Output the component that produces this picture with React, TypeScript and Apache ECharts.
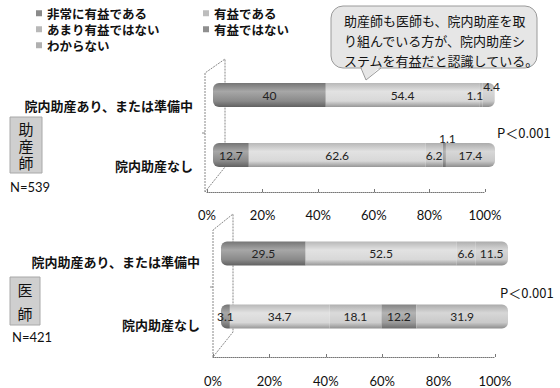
import React, { useEffect, useRef } from "react";
import * as echarts from "echarts";

const categories = ["院内助産あり、または準備中", "院内助産なし"];
const seriesNames = ["非常に有益である", "有益である", "あまり有益ではない", "有益ではない", "わからない"];

// 助産師 (N=539)
const midwifeVeryUseful = [40, 12.7];
const midwifeUseful = [54.4, 62.6];
const midwifeNotVery = [1.1, 6.2];
const midwifeNotUseful = [0, 1.1];
const midwifeUnknown = [4.4, 17.4];

// 医師 (N=421)
const doctorVeryUseful = [29.5, 3.1];
const doctorUseful = [52.5, 34.7];
const doctorNotVery = [6.6, 18.1];
const doctorNotUseful = [0, 12.2];
const doctorUnknown = [11.5, 31.9];

const percentTicks = [0, 20, 40, 60, 80, 100];

const baseColors = ["#8a8a8a", "#d8d8d8", "#cecece", "#9a9a9a", "#c9c9c9"];
const legendColors = ["#8a8a8a", "#bdbdbd", "#b8b8b8", "#8f8f8f", "#b0b0b0"];

const CJK = "'Noto Sans CJK JP', sans-serif";
const NUM = "Lato, 'Noto Sans', sans-serif";

function shade(hex: string, f: number) {
  const n = parseInt(hex.slice(1), 16);
  const c = [(n >> 16) & 255, (n >> 8) & 255, n & 255].map((v) =>
    Math.max(0, Math.min(255, Math.round(f >= 0 ? v + (255 - v) * f : v * (1 + f))))
  );
  return "rgb(" + c.join(",") + ")";
}

function cylinder(hex: string) {
  return new echarts.graphic.LinearGradient(0, 0, 0, 1, [
    { offset: 0, color: shade(hex, -0.15) },
    { offset: 0.35, color: shade(hex, 0.25) },
    { offset: 0.75, color: hex },
    { offset: 1, color: shade(hex, -0.3) },
  ]);
}

function labelOverride(panel: number, s: number, row: number) {
  if (panel === 0 && s === 4 && row === 0) return { offset: [3, -9] };
  if (panel === 0 && s === 2 && row === 0) return { offset: [-6, 0] };
  if (panel === 0 && s === 3 && row === 1) return { offset: [3, -17] };
  return null;
}

export default function App() {
  const ref = useRef<HTMLDivElement>(null);
  useEffect(() => {
    if (!ref.current) return;
    const chart = echarts.init(ref.current, null, { renderer: "svg" });
    const panels = [
      [midwifeVeryUseful, midwifeUseful, midwifeNotVery, midwifeNotUseful, midwifeUnknown],
      [doctorVeryUseful, doctorUseful, doctorNotVery, doctorNotUseful, doctorUnknown],
    ];
    const series: any[] = [];
    panels.forEach((vals, p) => {
      vals.forEach((arr, s) => {
        series.push({
          type: "bar",
          name: seriesNames[s],
          stack: "panel" + p,
          xAxisIndex: p,
          yAxisIndex: p,
          barWidth: 24,
          z: 5,
          itemStyle: {
            color: cylinder(baseColors[s]),
            borderRadius: s === 0 ? [6, 0, 0, 6] : s === 4 ? [0, 6, 6, 0] : 0,
          },
          label: {
            show: true,
            position: "inside",
            color: "#222",
            fontFamily: NUM,
            fontSize: 12,
            formatter: (pp: any) => (pp.value > 0 ? String(pp.value) : ""),
          },
          data: arr.map((v, row) => {
            const o = labelOverride(p, s, row);
            return o ? { value: v, label: o } : v;
          }),
        });
      });
    });

    const legendPos = [
      [36, 7],
      [203, 7],
      [36, 23],
      [203, 23],
      [36, 39],
    ];
    const legend = seriesNames.map((name, i) => ({
      data: [{ name, itemStyle: { color: legendColors[i] } }],
      left: legendPos[i][0],
      top: legendPos[i][1],
      padding: 0,
      icon: "rect",
      itemWidth: 6,
      itemHeight: 6,
      selectedMode: false,
      textStyle: { fontFamily: CJK, fontSize: 12.5, fontWeight: "bold", color: "#111", lineHeight: 12 },
    }));

    const catAxis = (gi: number, pad: number, margin: number) => ({
      type: "category",
      gridIndex: gi,
      data: categories,
      inverse: true,
      axisLine: { show: false },
      axisTick: { show: false },
      axisLabel: {
        margin,
        fontFamily: CJK,
        fontSize: 13,
        fontWeight: "bold",
        color: "#111",
        verticalAlign: "top",
        lineHeight: 16,
        padding: [pad, 0, 0, 0],
      },
    });

    const tickAxis = (gi: number, margin: number) => ({
      type: "value",
      gridIndex: gi,
      min: 0,
      max: 100,
      interval: 20,
      axisLine: { show: true, lineStyle: { color: "#777", type: "dotted" } },
      axisTick: { show: true, inside: true, length: 3, lineStyle: { color: "#777" } },
      splitLine: { show: false },
      axisLabel: {
        margin,
        fontFamily: NUM,
        fontSize: 13,
        color: "#111",
        formatter: (v: number) => (percentTicks.includes(v) ? v + "%" : ""),
      },
    });

    const wall = (pts: number[][]) => ({
      type: "polyline",
      shape: { points: pts },
      style: { stroke: "#888", lineWidth: 1, lineDash: [2, 1], fill: null },
      z: 1,
    });

    const option: any = {
      animation: false,
      backgroundColor: "#fff",
      legend,
      grid: [
        { left: 213, top: 65, width: 282, height: 120 },
        { left: 221, top: 222, width: 287, height: 126 },
        { left: 207, top: 100, width: 278, height: 92 },
        { left: 213, top: 265, width: 282, height: 92 },
      ],
      xAxis: [
        { type: "value", gridIndex: 0, min: 0, max: 100, show: false },
        { type: "value", gridIndex: 1, min: 0, max: 100, show: false },
        tickAxis(2, 16),
        tickAxis(3, 17),
      ],
      yAxis: [
        catAxis(0, 2, 20),
        catAxis(1, 0, 21),
        { type: "value", gridIndex: 2, show: false },
        { type: "value", gridIndex: 3, show: false },
      ],
      series,
      graphic: [
        wall([[205, 192], [205, 73], [225, 59], [225, 167], [205, 192]]),
        wall([[213, 357], [213, 230], [233, 214], [233, 332], [213, 357]]),
        { type: "line", shape: { x1: 202, y1: 133, x2: 205, y2: 133 }, style: { stroke: "#888" } },
        { type: "line", shape: { x1: 210, y1: 287, x2: 213, y2: 287 }, style: { stroke: "#888" } },
        // callout
        {
          type: "rect",
          shape: { x: 331, y: 6, width: 206, height: 62, r: 12 },
          style: { fill: "#e6e6e6", stroke: "#9a9a9a", lineWidth: 1 },
          z: 10,
        },
        {
          type: "polygon",
          shape: { points: [[361, 66], [366, 80], [381, 66]] },
          style: { fill: "#e6e6e6", stroke: null },
          z: 11,
        },
        {
          type: "polyline",
          shape: { points: [[361, 68], [366, 80], [381, 68]] },
          style: { stroke: "#9a9a9a", lineWidth: 1, fill: null },
          z: 11,
        },
        {
          type: "text",
          x: 344,
          y: 10,
          z: 12,
          style: {
            text: "助産師も医師も、院内助産を取\nり組んでいる方が、院内助産シ\nステムを有益だと認識している。",
            font: "13px " + CJK,
            fill: "#111",
            lineHeight: 20,
            verticalAlign: "top",
          },
        },
        // side boxes
        {
          type: "rect",
          shape: { x: 10, y: 117, width: 32, height: 56 },
          style: { fill: "#cfcfcf", stroke: "#a8a8a8", lineWidth: 1 },
        },
        {
          type: "text",
          x: 26,
          y: 145,
          style: {
            text: "助\n産\n師",
            font: "15px " + CJK,
            fill: "#111",
            align: "center",
            verticalAlign: "middle",
            lineHeight: 17,
          },
        },
        {
          type: "rect",
          shape: { x: 10, y: 277, width: 30, height: 48 },
          style: { fill: "#cfcfcf", stroke: "#a8a8a8", lineWidth: 1 },
        },
        {
          type: "text",
          x: 25,
          y: 301,
          style: {
            text: "医\n\n師",
            font: "15px " + CJK,
            fill: "#111",
            align: "center",
            verticalAlign: "middle",
            lineHeight: 12,
          },
        },
        {
          type: "text",
          x: 10,
          y: 187,
          style: { text: "N=539", font: "13px " + NUM, fill: "#111", verticalAlign: "middle" },
        },
        {
          type: "text",
          x: 12,
          y: 337,
          style: { text: "N=421", font: "13px " + NUM, fill: "#111", verticalAlign: "middle" },
        },
        {
          type: "text",
          x: 497,
          y: 132,
          style: { text: "P＜0.001", font: "13px " + CJK, fill: "#111", verticalAlign: "middle" },
        },
        {
          type: "text",
          x: 500,
          y: 292,
          style: { text: "P＜0.001", font: "13px " + CJK, fill: "#111", verticalAlign: "middle" },
        },
      ],
    };
    chart.setOption(option);
    return () => chart.dispose();
  }, []);
  return (
    <div
      ref={ref}
      style={{ position: "fixed", left: 0, top: 0, width: 560, height: 388 }}
    />
  );
}
